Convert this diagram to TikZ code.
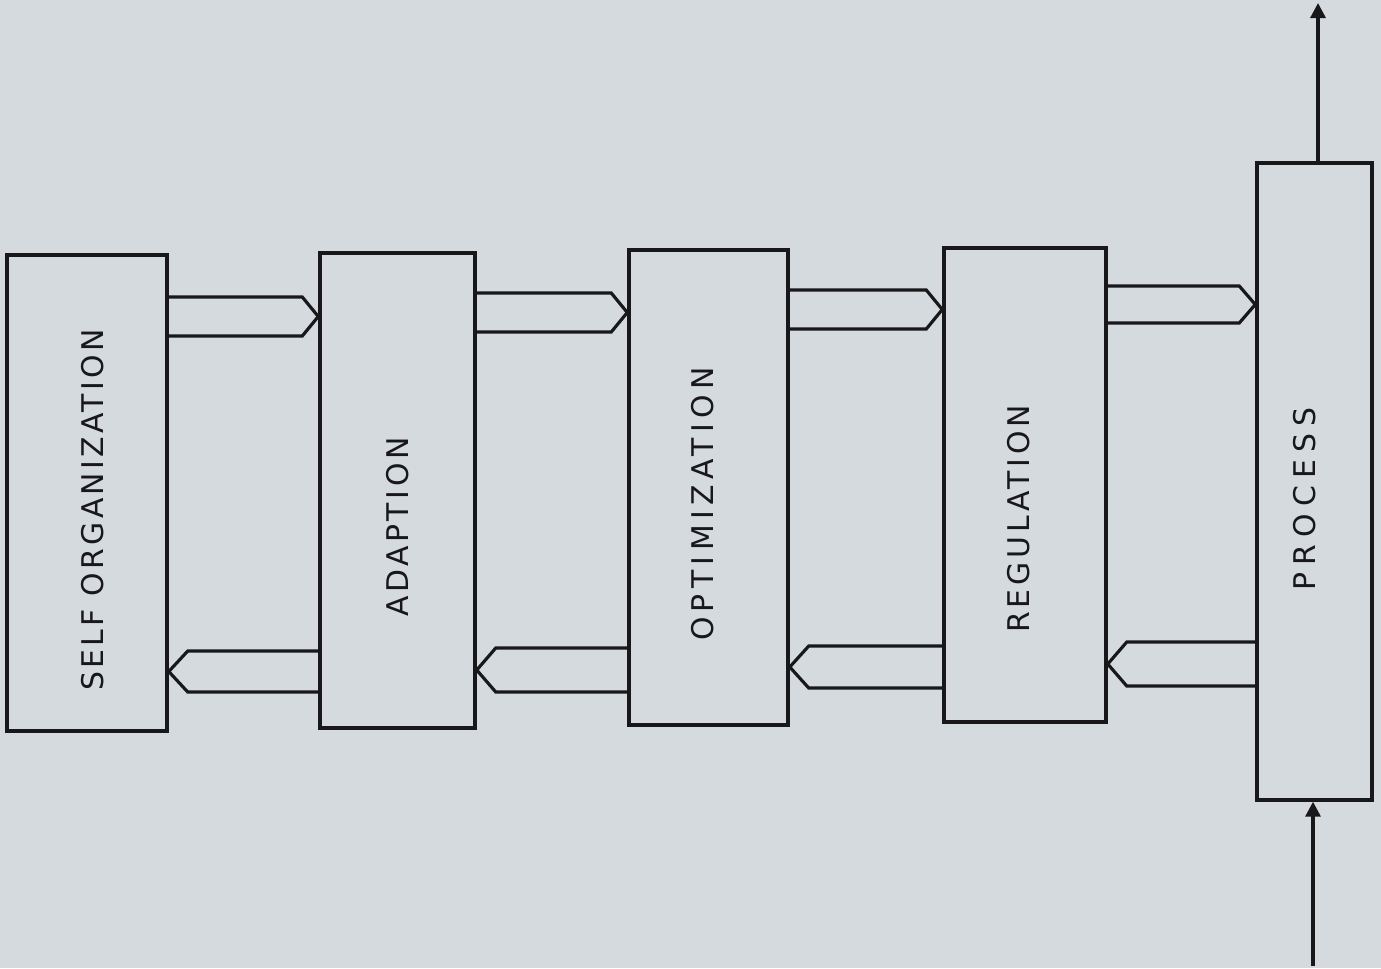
\documentclass[tikz,border=0pt]{standalone}
\usepackage{fontspec}
\newfontfamily\handfont{DejaVu Sans}
\usetikzlibrary{arrows.meta}
\definecolor{paper}{RGB}{213,218,223}
\definecolor{ink}{RGB}{24,24,26}

% hollow pentagon pipes between two stacked levels
\newcommand{\fwdpipe}[4]{% from, to, upper edge, lower edge
  \draw[pipe] (#1.east |- 0,#3) -- ([xshift=-0.32cm]#2.west |- 0,#3)
    -- (#2.west |- 0,{(#3+#4)/2}) -- ([xshift=-0.32cm]#2.west |- 0,#4)
    -- (#1.east |- 0,#4);}
\newcommand{\backpipe}[4]{% from, to, upper edge, lower edge
  \draw[pipe] (#1.west |- 0,#3) -- ([xshift=0.38cm]#2.east |- 0,#3)
    -- (#2.east |- 0,{(#3+#4)/2}) -- ([xshift=0.38cm]#2.east |- 0,#4)
    -- (#1.west |- 0,#4);}

\begin{document}
\begin{tikzpicture}[x=0.02cm, y=-0.02cm,
  box/.style={draw=ink, line width=2pt, rectangle, inner sep=0pt},
  tag/.style={font=\handfont\fontsize{17}{20}\selectfont\addfontfeature{LetterSpace=#1},
              text=ink, rotate=90},
  tag/.default=11,
  pipe/.style={draw=ink, line width=1.8pt, line join=miter},
  flow/.style={draw=ink, line width=1.8pt, -{Triangle[length=0.3cm, width=0.3cm]}}]
  \fill[paper] (0,0) rectangle (1381,968);
  \useasboundingbox (0,0) rectangle (1381,968);

  % the five levels
  \node[box, minimum width=3.2cm, minimum height=9.52cm] (selforg) at (87,493) {};
  \node[box, minimum width=3.1cm, minimum height=9.5cm] (adapt) at (397.5,490.5) {};
  \node[box, minimum width=3.18cm, minimum height=9.5cm] (optim) at (708.5,487.5) {};
  \node[box, minimum width=3.24cm, minimum height=9.48cm] (regul) at (1025,485) {};
  \node[box, minimum width=2.3cm, minimum height=12.74cm] (process) at (1314.5,481.5) {};

  \node[tag] (selforgtxt) at (93,510) {SELF ORGANIZATION};
  \node[tag=12] (adapttxt) at (398,527) {ADAPTION};
  \node[tag=18] (optimtxt) at (703,504) {OPTIMIZATION};
  \node[tag=13] (regultxt) at (1019,519) {REGULATION};
  \node[tag=24] (processtxt) at (1305,499) {PROCESS};

  % downward commands
  \fwdpipe{selforg}{adapt}{297}{336}
  \fwdpipe{adapt}{optim}{293}{332}
  \fwdpipe{optim}{regul}{290}{329}
  \fwdpipe{regul}{process}{286}{323}

  % upward feedback
  \backpipe{adapt}{selforg}{651}{692}
  \backpipe{optim}{adapt}{648}{692}
  \backpipe{regul}{optim}{646}{688}
  \backpipe{process}{regul}{642}{686}

  % process input and output
  \coordinate (out) at (1318,3);
  \coordinate (in) at (1313,966);
  \draw[flow] (process.north -| out) -- (out);
  \draw[flow] (in) -- (process.south -| in);
\end{tikzpicture}
\end{document}
